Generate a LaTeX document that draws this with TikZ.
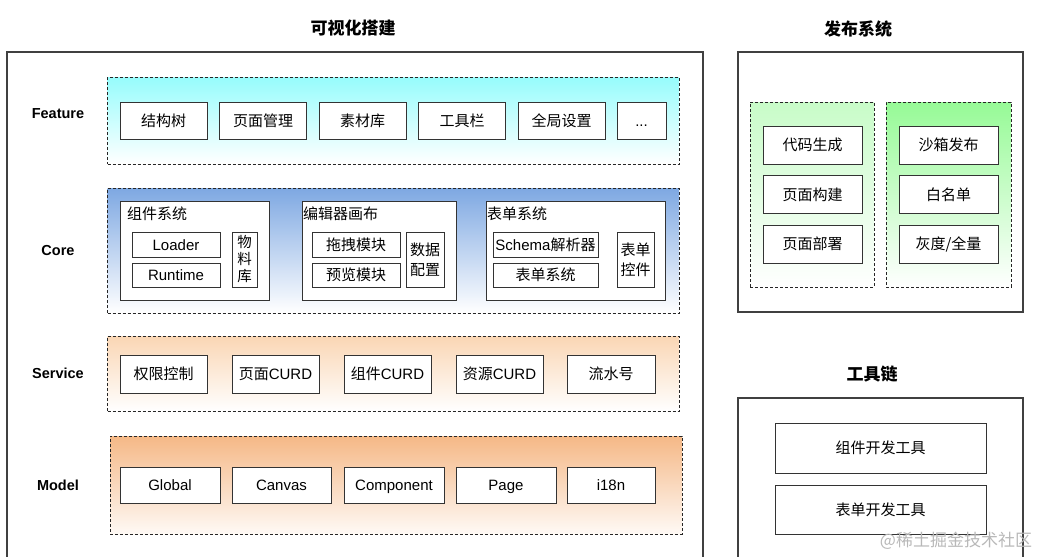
\documentclass[tikz,border=0pt]{standalone}
\usepackage{fontspec}
\setmainfont{Noto Sans CJK SC}
\newfontfamily\en{Liberation Sans}
\usetikzlibrary{positioning}

\definecolor{featc}{RGB}{150,252,252}
\definecolor{corec}{RGB}{126,168,226}
\definecolor{servc}{RGB}{250,214,180}
\definecolor{modc}{RGB}{245,184,134}
\definecolor{grnl}{RGB}{200,252,200}
\definecolor{grnr}{RGB}{150,250,150}

\tikzset{
  box/.style={draw=black!80, line width=1pt, fill=white, inner sep=0pt, text height=12pt, text depth=1pt, font=\fontsize{15}{17}\selectfont},
  vbox/.style={box, text height=, text depth=, align=center},
  group/.style={draw=black!80, line width=1pt, fill=white, inner sep=0pt},
  layer/.style={draw=black!85, dash pattern=on 3pt off 2pt, line width=1pt, inner sep=0pt},
  frame/.style={draw=black!75, line width=1.2pt},
  title/.style={font=\fontsize{17}{20}\selectfont\bfseries},
  tag/.style={font=\en\fontsize{14.5}{17}\selectfont\bfseries},
  head/.style={anchor=west, inner sep=0pt, font=\fontsize{15}{17}\selectfont},
  sz/.style 2 args={minimum width=#1pt, minimum height=#2pt}
}

\begin{document}
\begin{tikzpicture}[x=1pt, y=-1pt]
\useasboundingbox (0,0) rectangle (1042,557);

\node[title] (tvis) at (353,28) {可视化搭建};
\node[title] (tpub) at (858,29) {发布系统};
\node[title] (ttool) at (872,374) {工具链};

\draw[frame] (7,570) -- (7,52) -- (703,52) -- (703,570);
\draw[frame] (738,52) rectangle (1023,312);
\draw[frame] (738,570) -- (738,398) -- (1023,398) -- (1023,570);

\node[tag] (lfeat) at (58,114) {Feature};
\node[tag] (lcore) at (58,251) {Core};
\node[tag] (lserv) at (58,373) {Service};
\node[tag] (lmod) at (58,485) {Model};

\node[layer, top color=featc, middle color=featc!45, bottom color=white, sz={571.5}{87}] (feature) at (393.25,120.5) {};
\node[layer, top color=corec, middle color=corec!18, bottom color=white, sz={571.5}{125}] (core) at (393.25,250.5) {};
\node[layer, top color=servc, middle color=servc!40, bottom color=white, sz={571.5}{75}] (service) at (393.25,373.5) {};
\node[layer, top color=modc, middle color=modc!45, bottom color=modc!8, sz={572}{98}] (model) at (396,485) {};

\node[box, sz={87}{37}] (tree) at (163.5,120.5) {结构树};
\node[box, sz={87}{37}] (pages) at (263,120.5) {页面管理};
\node[box, sz={87}{37}] (assets) at (362.5,120.5) {素材库};
\node[box, sz={87}{37}] (toolbar) at (462,120.5) {工具栏};
\node[box, sz={87}{37}] (settings) at (561.5,120.5) {全局设置};
\node[box, sz={49}{37}] (more) at (641.5,120.5) {\en ...};

\node[group, sz={149}{99}] (comp) at (194.5,250.5) {};
\node[group, sz={154}{99}] (editor) at (379,250.5) {};
\node[group, sz={179}{99}] (form) at (575.5,250.5) {};
\node[head] (hcomp) at (127,214) {组件系统};
\node[head] (heditor) at (303,214) {编辑器画布};
\node[head] (hform) at (487,214) {表单系统};

\node[box, sz={88}{25}] (loader) at (176,244.5) {\en Loader};
\node[box, sz={88}{24}] (runtime) at (176,275) {\en Runtime};
\node[vbox, sz={25}{55}, font=\fontsize{14.5}{17}\selectfont] (lib) at (244.5,259.5) {物\\料\\库};
\node[box, sz={88}{25}] (drag) at (356,244.5) {拖拽模块};
\node[box, sz={88}{24}] (preview) at (356,275) {预览模块};
\node[vbox, sz={38}{55}, font=\fontsize{15}{20}\selectfont] (dataconf) at (425,259.5) {数据\\配置};
\node[box, sz={105}{25}] (schema) at (545.5,244.5) {{\en Schema}解析器};
\node[box, sz={105}{24}] (formsys) at (545.5,275) {表单系统};
\node[vbox, sz={37}{55}, font=\fontsize{15}{20}\selectfont] (widgets) at (635.5,259.5) {表单\\控件};

\node[box, sz={87}{38}] (auth) at (163.5,374) {权限控制};
\node[box, sz={87}{38}] (pagecurd) at (275.5,374) {页面{\en CURD}};
\node[box, sz={87}{38}] (compcurd) at (387.5,374) {组件{\en CURD}};
\node[box, sz={87}{38}] (rescurd) at (499.5,374) {资源{\en CURD}};
\node[box, sz={88}{38}] (serial) at (611,374) {流水号};

\node[box, sz={100}{36}] (global) at (170,485) {\en Global};
\node[box, sz={99}{36}] (canvas) at (281.5,485) {\en Canvas};
\node[box, sz={100}{36}] (component) at (394,485) {\en Component};
\node[box, sz={100}{36}] (page) at (506,485) {\en Page};
\node[box, sz={88}{36}] (intl) at (611,485) {\en i18n};

\node[layer, top color=grnl, bottom color=white, sz={124}{185}] (build) at (812,194.5) {};
\node[layer, top color=grnr, middle color=grnr!35, bottom color=white, sz={125}{185}] (release) at (948.5,194.5) {};

\node[box, sz={99}{38}] (codegen) at (812.5,145) {代码生成};
\node[box, sz={99}{38}] (pagebuild) at (812.5,194.5) {页面构建};
\node[box, sz={99}{38}] (deploy) at (812.5,244) {页面部署};
\node[box, sz={99}{38}] (sandbox) at (948.5,145) {沙箱发布};
\node[box, sz={99}{38}] (whitelist) at (948.5,194.5) {白名单};
\node[box, sz={99}{38}] (gray) at (948.5,244) {灰度/全量};

\node[box, sz={211}{50}] (comptool) at (880.5,448) {组件开发工具};
\node[box, sz={211}{49}] (formtool) at (880.5,509.5) {表单开发工具};

\node[text=black!28, font=\fontsize{17}{20}\selectfont] (mark) at (956,541) {@稀土掘金技术社区};
\end{tikzpicture}
\end{document}
